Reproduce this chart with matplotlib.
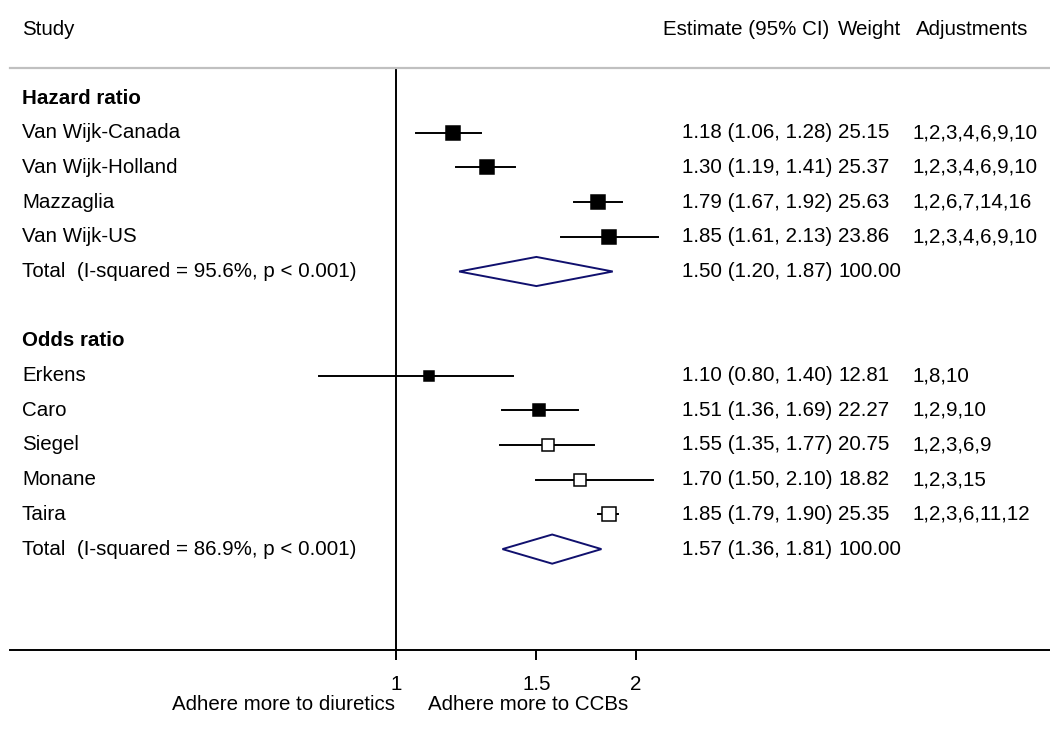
import numpy as np
import matplotlib.pyplot as plt
import matplotlib.transforms as mtransforms
from matplotlib.patches import Polygon

plt.rcParams['font.family'] = ['Liberation Sans', 'DejaVu Sans']

# ---- data ----
hr_names = ["Van Wijk-Canada", "Van Wijk-Holland", "Mazzaglia", "Van Wijk-US"]
hr_est = [1.18, 1.30, 1.79, 1.85]
hr_lo = [1.06, 1.19, 1.67, 1.61]
hr_hi = [1.28, 1.41, 1.92, 2.13]
hr_w = [25.15, 25.37, 25.63, 23.86]
hr_adj = ["1,2,3,4,6,9,10", "1,2,3,4,6,9,10", "1,2,6,7,14,16", "1,2,3,4,6,9,10"]
hr_open = [False, False, False, False]
hr_total = (1.50, 1.20, 1.87)
hr_total_label = "Total  (I-squared = 95.6%, p < 0.001)"

or_names = ["Erkens", "Caro", "Siegel", "Monane", "Taira"]
or_est = [1.10, 1.51, 1.55, 1.70, 1.85]
or_lo = [0.80, 1.36, 1.35, 1.50, 1.79]
or_hi = [1.40, 1.69, 1.77, 2.10, 1.90]
or_w = [12.81, 22.27, 20.75, 18.82, 25.35]
or_adj = ["1,8,10", "1,2,9,10", "1,2,3,6,9", "1,2,3,15", "1,2,3,6,11,12"]
or_open = [False, False, True, True, True]
or_total = (1.57, 1.36, 1.81)
or_total_label = "Total  (I-squared = 86.9%, p < 0.001)"

ticks = [1, 1.5, 2]
tick_labels = ["1", "1.5", "2"]

# ---- figure ----
W, H = 1050, 732
fig = plt.figure(figsize=(W / 100, H / 100), dpi=100)
ax = fig.add_axes([10 / W, (H - 650) / H, 1040 / W, (650 - 68) / H])
ax.set_xscale("log")
ax.set_xlim(2 ** ((10 - 396) / 240), 2 ** ((1050 - 396) / 240))
step = 34.7
ax.set_ylim((650 - 98) / step, (68 - 98) / step)

for s in ["left", "right"]:
    ax.spines[s].set_visible(False)
ax.spines["top"].set_color("#c0c0c0")
ax.spines["top"].set_linewidth(1.6)
ax.spines["bottom"].set_linewidth(1.4)
ax.set_yticks([])
ax.xaxis.set_minor_locator(plt.NullLocator())
fs = 14.8
ax.set_xticks(ticks)
ax.set_xticklabels(tick_labels, fontsize=fs)
ax.tick_params(axis="x", length=7, width=1.4, pad=11)
ax.axvline(1, color="black", lw=1.4, zorder=1)

tr = mtransforms.blended_transform_factory(ax.transAxes, ax.transData)


def fx(px):
    return (px - 10) / 1040


cx = {"name": fx(22), "est": fx(682), "w": fx(838), "adj": fx(913)}

hy = -1.96
ax.text(cx["name"], hy, "Study", transform=tr, fontsize=fs, va="center", clip_on=False)
ax.text(fx(663), hy, "Estimate (95% CI)", transform=tr, fontsize=fs, va="center", clip_on=False)
ax.text(fx(838), hy, "Weight", transform=tr, fontsize=fs, va="center", clip_on=False)
ax.text(fx(916), hy, "Adjustments", transform=tr, fontsize=fs, va="center", clip_on=False)


def draw_group(row0, title, names, est, lo, hi, w, adj, opn, total, total_label):
    ax.text(cx["name"], row0, title, transform=tr, fontsize=fs, va="center", weight="bold")
    r = row0 + 1
    for n, e, l, h, wt, a, o in zip(names, est, lo, hi, w, adj, opn):
        ax.plot([l, h], [r, r], color="black", lw=1.4, zorder=2)
        ms = 1.95 * np.sqrt(wt)
        ax.plot(e, r, marker="s", ms=ms, mfc="white" if o else "black",
                mec="black", mew=1.1, zorder=3)
        ax.text(cx["name"], r, n, transform=tr, fontsize=fs, va="center")
        ax.text(cx["est"], r, f"{e:.2f} ({l:.2f}, {h:.2f})", transform=tr, fontsize=fs, va="center")
        ax.text(cx["w"], r, f"{wt:.2f}", transform=tr, fontsize=fs, va="center")
        ax.text(cx["adj"], r, a, transform=tr, fontsize=fs, va="center")
        r += 1
    e, l, h = total
    ax.add_patch(Polygon([(l, r), (e, r - 0.42), (h, r), (e, r + 0.42)],
                         closed=True, fill=False, ec="#10106e", lw=1.4, zorder=3))
    ax.text(cx["name"], r, total_label, transform=tr, fontsize=fs, va="center")
    ax.text(cx["est"], r, f"{e:.2f} ({l:.2f}, {h:.2f})", transform=tr, fontsize=fs, va="center")
    ax.text(cx["w"], r, "100.00", transform=tr, fontsize=fs, va="center")
    return r


end = draw_group(0, "Hazard ratio", hr_names, hr_est, hr_lo, hr_hi, hr_w, hr_adj,
                 hr_open, hr_total, hr_total_label)
draw_group(end + 2, "Odds ratio", or_names, or_est, or_lo, or_hi, or_w, or_adj,
           or_open, or_total, or_total_label)

ax.annotate("Adhere more to diuretics", xy=(1, 0), xycoords=("data", "axes fraction"),
            xytext=(-1, -55), textcoords="offset pixels", ha="right", va="center", fontsize=fs)
ax.annotate("Adhere more to CCBs", xy=(1, 0), xycoords=("data", "axes fraction"),
            xytext=(32, -55), textcoords="offset pixels", ha="left", va="center", fontsize=fs)

fig.savefig("out.png", dpi=100)
